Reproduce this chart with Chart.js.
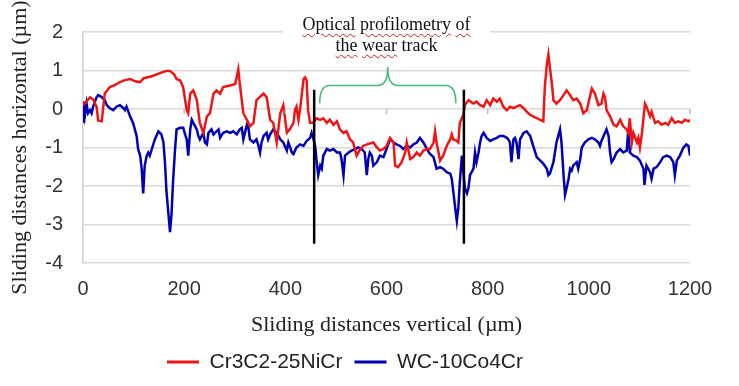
<!DOCTYPE html>
<html>
<head>
<meta charset="utf-8">
<script src="https://cdn.jsdelivr.net/npm/chart.js@4/dist/chart.umd.min.js"></script>
<style>
  body { margin: 0; background: #fff; }
  #wrap { position: relative; width: 739px; height: 386px; }
  #note {
    position: absolute; left: 283px; top: 14px; width: 207px;
    background: #fff; text-align: center;
    font: 18px 'Liberation Serif', 'Times New Roman', serif; line-height: 21px; color: #111;
  }
  .sq { text-decoration: underline wavy #d02020; text-decoration-thickness: 1px; text-underline-offset: 3px; }
</style>
</head>
<body>
<div id="wrap">
  <canvas id="profile" width="739" height="386"></canvas>
  <div id="note"><span class="sq">Optical</span> <span class="sq">profilometry</span> <span class="sq">of</span><br><span class="sq">the</span> <span class="sq">wear</span> track</div>
</div>
<script>
// profile readings: [sliding distance vertical (µm), horizontal (µm)]
const cr3c2Points = [
  [0,0.10],[7,0.20],[14,0.30],[20,0.25],[27,0.05],[30,-0.30],[37,-0.32],[43,0.40],[53,0.57],[63,0.62],
  [73,0.70],[83,0.75],[93,0.78],[103,0.72],[113,0.70],[120,0.80],[126,0.82],[136,0.85],[146,0.90],[156,0.95],
  [165,0.99],[172,0.99],[180,0.90],[185,0.78],[192,0.74],[198,0.57],[205,-0.03],[208,-0.11],[212,0.40],[218,0.48],
  [225,0.23],[231,-0.36],[238,-0.62],[245,-0.19],[251,-0.11],[258,0.40],[264,0.48],[271,0.40],[277,0.57],[291,0.61],
  [301,0.65],[307,1.03],[310,0.65],[317,-0.11],[324,-0.28],[330,-0.45],[337,-0.36],[343,0.23],[357,0.40],[363,0.31],
  [370,-0.28],[376,-0.36],[383,-0.87],[390,-0.11],[396,0.10],[399,-0.19],[403,-0.62],[409,-0.53],[416,-0.36],[419,-0.03],
  [422,0.06],[426,-0.28],[429,-0.03],[436,0.78],[439,0.82],[442,0.74],[445,-0.03],[449,-0.36],[455,-0.36],[462,-0.24],
  [469,-0.28],[475,-0.24],[482,-0.36],[488,-0.28],[495,-0.41],[502,-0.32],[508,-0.53],[515,-0.62],[521,-0.58],[528,-0.79],
  [534,-0.87],[541,-1.21],[548,-1.04],[554,-0.96],[561,-0.92],[574,-0.87],[581,-1.00],[587,-1.08],[594,-1.04],[600,-0.96],
  [607,-0.75],[614,-0.87],[617,-1.47],[623,-1.51],[630,-1.38],[637,-1.13],[640,-0.87],[647,-1.30],[653,-1.25],[660,-1.13],
  [666,-1.21],[673,-1.08],[680,-1.04],[686,-1.04],[693,-0.87],[696,-0.58],[699,-0.87],[706,-1.34],[712,-1.21],[719,-0.96],
  [726,-0.79],[729,-0.66],[732,-0.79],[739,-0.83],[742,-0.87],[745,-0.36],[752,-0.15],[755,0.10],[762,0.23],[772,0.14],
  [778,0.19],[785,0.10],[792,0.06],[798,0.23],[805,0.10],[811,0.27],[818,0.19],[824,0.27],[831,0.06],[838,-0.03],
  [844,0.06],[851,0.02],[857,0.06],[864,0.10],[871,0.02],[877,-0.07],[884,-0.15],[890,-0.19],[897,-0.24],[904,-0.28],
  [910,-0.32],[913,0.57],[917,1.16],[920,1.42],[923,1.08],[927,0.65],[930,0.23],[936,0.14],[943,0.23],[950,0.36],
  [956,0.48],[963,0.36],[969,0.23],[976,0.27],[983,0.14],[989,-0.11],[996,-0.03],[1002,0.31],[1006,0.53],[1012,0.40],
  [1019,0.10],[1025,0.14],[1029,0.40],[1032,0.31],[1035,-0.03],[1042,-0.19],[1049,-0.41],[1055,-0.45],[1062,-0.28],[1068,-0.45],
  [1075,-0.53],[1078,-0.62],[1081,-0.24],[1085,-0.87],[1088,-0.62],[1095,-0.87],[1098,-0.75],[1101,-1.00],[1105,-0.62],[1111,0.14],
  [1114,0.06],[1121,-0.19],[1124,-0.07],[1131,-0.36],[1137,-0.32],[1144,-0.41],[1151,-0.36],[1157,-0.41],[1164,-0.24],[1170,-0.36],
  [1177,-0.32],[1184,-0.36],[1190,-0.28],[1197,-0.32],[1200,-0.28]
];

const wcPoints = [
  [0,-0.36],[2,0.19],[4,-0.15],[7,0.14],[10,-0.11],[14,-0.03],[17,-0.11],[20,0.06],[27,0.31],[30,0.36],
  [37,0.31],[43,0.23],[47,0.10],[53,0.02],[60,-0.03],[66,0.06],[73,0.10],[80,0.02],[83,-0.03],[86,0.06],
  [93,-0.19],[99,-0.36],[106,-0.70],[109,-1.04],[113,-1.21],[116,-1.55],[119,-2.19],[122,-1.47],[126,-1.21],[129,-1.13],
  [132,-1.21],[136,-1.04],[142,-0.79],[149,-0.58],[155,-0.66],[159,-0.87],[162,-1.38],[165,-2.14],[169,-2.74],[172,-3.20],
  [175,-2.74],[178,-1.89],[182,-1.04],[185,-0.53],[192,-0.49],[198,-0.49],[205,-0.79],[208,-1.21],[212,-0.53],[215,-0.28],
  [218,-0.36],[225,-0.53],[228,-0.70],[231,-0.79],[238,-0.62],[241,-0.87],[245,-0.92],[248,-0.62],[254,-0.53],[258,-0.66],
  [264,-0.58],[268,-0.53],[271,-0.75],[277,-0.62],[284,-0.58],[291,-0.62],[297,-0.58],[304,-0.66],[310,-0.53],[314,-0.49],
  [317,-0.79],[324,-0.41],[327,-0.49],[330,-0.79],[337,-0.87],[343,-0.79],[347,-0.96],[350,-1.13],[353,-0.87],[357,-0.70],
  [363,-0.62],[366,-0.79],[370,-0.66],[376,-0.53],[383,-0.62],[390,-0.79],[396,-0.87],[399,-0.96],[403,-1.08],[406,-0.87],
  [413,-1.13],[416,-1.17],[422,-1.00],[429,-0.92],[436,-0.96],[442,-0.83],[449,-0.75],[452,-0.62],[455,-0.75],[459,-0.96],
  [462,-1.38],[465,-1.72],[469,-1.47],[472,-1.55],[475,-1.21],[482,-1.04],[488,-1.08],[495,-1.04],[502,-1.13],[508,-1.13],
  [511,-1.30],[515,-1.72],[518,-1.21],[525,-1.13],[531,-1.08],[538,-1.04],[544,-1.00],[551,-1.04],[557,-1.13],[561,-1.72],
  [564,-1.30],[567,-1.13],[571,-1.21],[574,-1.47],[581,-1.38],[587,-1.21],[594,-1.25],[600,-1.04],[607,-0.79],[614,-0.87],
  [620,-0.92],[627,-0.96],[633,-1.04],[640,-0.96],[647,-1.00],[653,-0.92],[660,-0.87],[666,-0.75],[673,-0.87],[680,-1.04],
  [686,-1.17],[693,-1.25],[699,-1.55],[706,-1.51],[712,-1.55],[719,-1.64],[726,-1.68],[729,-1.81],[732,-2.14],[735,-2.48],
  [739,-2.91],[742,-2.57],[745,-1.89],[749,-1.21],[752,-1.64],[755,-2.06],[759,-2.19],[762,-2.06],[765,-1.72],[772,-1.55],
  [775,-1.13],[778,-1.38],[782,-1.13],[785,-0.87],[788,-0.70],[792,-0.62],[798,-0.75],[805,-0.83],[811,-0.79],[818,-0.75],
  [824,-0.70],[831,-0.70],[838,-0.75],[841,-0.79],[844,-0.87],[847,-1.38],[851,-0.79],[854,-0.75],[857,-0.87],[861,-1.30],
  [864,-0.79],[871,-0.62],[877,-0.58],[884,-0.70],[890,-0.96],[897,-1.25],[904,-1.34],[910,-1.42],[917,-1.55],[920,-1.72],
  [923,-1.68],[930,-1.38],[936,-0.87],[943,-0.53],[946,-0.87],[950,-1.72],[953,-2.23],[956,-2.06],[960,-1.81],[963,-1.55],
  [966,-1.60],[969,-1.47],[976,-1.38],[979,-1.55],[983,-1.30],[986,-1.00],[992,-0.87],[999,-0.79],[1006,-0.75],[1012,-0.79],
  [1019,-0.87],[1022,-0.96],[1025,-0.83],[1032,-0.62],[1035,-0.53],[1039,-0.70],[1042,-1.13],[1045,-1.38],[1049,-1.30],[1055,-1.13],
  [1062,-1.04],[1068,-1.13],[1075,-1.08],[1078,-0.53],[1081,-1.13],[1088,-1.21],[1095,-1.25],[1101,-1.34],[1108,-1.55],[1110,-1.97],
  [1114,-1.47],[1121,-1.64],[1124,-1.81],[1128,-1.55],[1134,-1.51],[1141,-1.38],[1147,-1.25],[1154,-1.21],[1161,-1.25],[1167,-1.38],
  [1170,-1.72],[1174,-1.34],[1180,-1.21],[1187,-1.00],[1193,-0.92],[1197,-0.96],[1200,-1.21]
];

const seriesNames = ['Cr3C2-25NiCr', 'WC-10Co4Cr'];
const seriesColors = ['#f01414', '#0000b4'];

// wear track markers (data units)
const trackEdges = [457, 753];
const trackLineSpan = [0.5, -3.5];
const braceSpan = [468, 737];
const braceLevels = [0.15, 0.61, 1.09]; // ends, bar, tip

const toXY = pts => pts.map(p => ({ x: p[0], y: p[1] }));

const markers = {
  id: 'markers',
  afterDatasetsDraw(chart) {
    const { ctx, scales: { x, y } } = chart;
    ctx.save();
    // small tick marks on the zero line
    ctx.strokeStyle = '#bfbfbf';
    ctx.lineWidth = 1.5;
    const y0 = y.getPixelForValue(0);
    for (let v = 200; v <= 1200; v += 200) {
      const px = x.getPixelForValue(v);
      ctx.beginPath(); ctx.moveTo(px, y0); ctx.lineTo(px, y0 + 5); ctx.stroke();
    }
    // vertical track edges
    ctx.strokeStyle = '#000';
    ctx.lineWidth = 2.5;
    trackEdges.forEach(v => {
      const px = x.getPixelForValue(v);
      ctx.beginPath();
      ctx.moveTo(px, y.getPixelForValue(trackLineSpan[0]));
      ctx.lineTo(px, y.getPixelForValue(trackLineSpan[1]));
      ctx.stroke();
    });
    // curly brace
    const L = x.getPixelForValue(braceSpan[0]);
    const R = x.getPixelForValue(braceSpan[1]);
    const M = (L + R) / 2;
    const yEnd = y.getPixelForValue(braceLevels[0]);
    const yBar = y.getPixelForValue(braceLevels[1]);
    const yTip = y.getPixelForValue(braceLevels[2]);
    const r = 10;
    ctx.strokeStyle = '#49b978';
    ctx.lineWidth = 1.6;
    ctx.beginPath();
    ctx.moveTo(L, yEnd);
    ctx.quadraticCurveTo(L, yBar, L + r, yBar);
    ctx.lineTo(M - r, yBar);
    ctx.quadraticCurveTo(M, yBar, M, yTip);
    ctx.quadraticCurveTo(M, yBar, M + r, yBar);
    ctx.lineTo(R - r, yBar);
    ctx.quadraticCurveTo(R, yBar, R, yEnd);
    ctx.stroke();
    ctx.restore();
  }
};

new Chart(document.getElementById('profile'), {
  type: 'line',
  data: {
    datasets: [cr3c2Points, wcPoints].map((pts, i) => ({
      label: seriesNames[i],
      data: toXY(pts),
      borderColor: seriesColors[i],
      backgroundColor: seriesColors[i],
      borderWidth: 2.5,
      pointRadius: 0,
      tension: 0
    }))
  },
  options: {
    responsive: false,
    animation: false,
    devicePixelRatio: 1,
    layout: { padding: { left: 0, right: 49, top: 27, bottom: 3.5 } },
    plugins: {
      tooltip: { enabled: false },
      legend: {
        position: 'bottom',
        labels: {
          color: '#222',
          font: { family: "'Liberation Sans', Arial, sans-serif", size: 21 },
          boxWidth: 32,
          boxHeight: 3,
          padding: 12,
          generateLabels(chart) {
            return Chart.defaults.plugins.legend.labels.generateLabels(chart)
              .map(item => Object.assign(item, { lineWidth: 0 }));
          }
        }
      }
    },
    scales: {
      x: {
        type: 'linear',
        min: 0,
        max: 1200,
        grid: { display: false, drawTicks: false },
        border: { display: false },
        ticks: {
          stepSize: 200,
          padding: 14,
          color: '#333',
          font: { family: "'Liberation Sans', Arial, sans-serif", size: 20 },
          callback: v => String(v)
        },
        title: {
          display: true,
          text: 'Sliding distances vertical (µm)',
          color: '#222',
          font: { family: "'Liberation Serif', 'Times New Roman', serif", size: 22 },
          padding: { top: 0, bottom: 1.3 }
        },
        afterFit(scale) { scale.height = 76.5; }
      },
      y: {
        min: -4,
        max: 2,
        grid: { color: '#d9d9d9', lineWidth: 1.5, drawTicks: false },
        border: { display: true, color: '#d0d0d0', width: 1.5 },
        ticks: {
          stepSize: 1,
          padding: 20,
          color: '#333',
          font: { family: "'Liberation Sans', Arial, sans-serif", size: 20 }
        },
        title: {
          display: true,
          text: 'Sliding distances horizontal (µm)',
          color: '#222',
          font: { family: "'Liberation Serif', 'Times New Roman', serif", size: 22 },
          padding: { top: 7, bottom: 0 }
        },
        afterFit(scale) { scale.width = 83; }
      }
    }
  },
  plugins: [markers]
});
</script>
</body>
</html>
